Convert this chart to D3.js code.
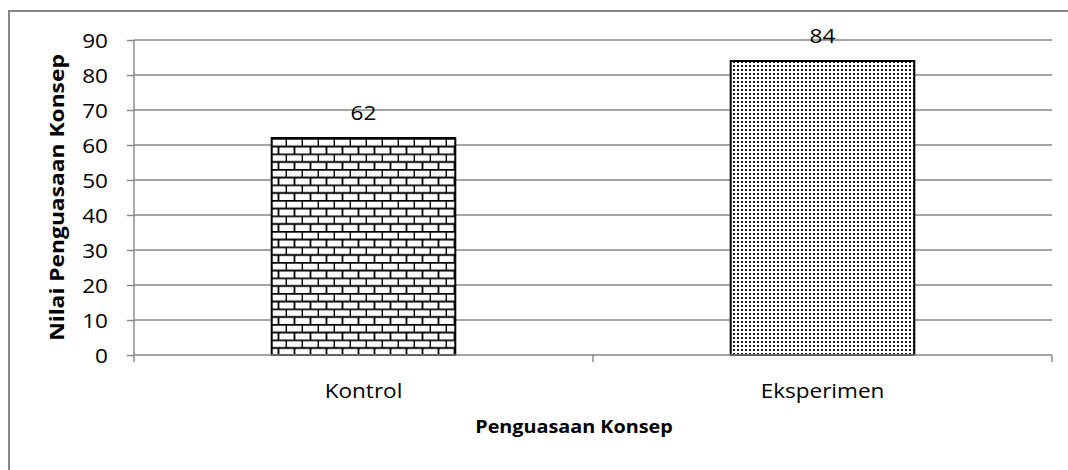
<!DOCTYPE html>
<html><head><meta charset="utf-8">
<script src="https://cdn.jsdelivr.net/npm/d3@7"></script>
<style>body{margin:0;background:#fff;}svg{display:block;}</style>
</head><body>
<svg id="c" width="1068" height="470"></svg>
<script>
const categories = ["Kontrol", "Eksperimen"];
const values = [62, 84];
const yTicks = [0, 10, 20, 30, 40, 50, 60, 70, 80, 90];
const yTitle = "Nilai Penguasaan Konsep";
const xTitle = "Penguasaan Konsep";

const svg = d3.select("#c");
const font = "'Open Sans', sans-serif";
const grey = "#868686";
const SX = 1.1;
const m = {left: 134, right: 1052, top: 40, bottom: 355};

svg.append("path").attr("d", "M9,480 L9,11 L1080,11").attr("fill", "none")
  .attr("stroke", grey).attr("stroke-width", 2);

const x = d3.scaleBand().domain(categories).range([m.left, m.right]).paddingInner(0).paddingOuter(0);
const y = d3.scaleLinear().domain([0, 90]).range([m.bottom, m.top]);

const defs = svg.append("defs");
const bp = defs.append("pattern").attr("id", "brick").attr("patternUnits", "userSpaceOnUse")
  .attr("width", 16).attr("height", 15.5).attr("x", 271).attr("y", y(values[0]));
bp.append("rect").attr("width", 16).attr("height", 15.5).attr("fill", "#fff");
bp.append("path").attr("d", "M0,0.75H16 M0,8.5H16 M15.5,0V8.5 M7.5,8.5V15.5")
  .attr("stroke", "#000").attr("stroke-width", 1.8).attr("fill", "none");
const dp = defs.append("pattern").attr("id", "dots").attr("patternUnits", "userSpaceOnUse")
  .attr("width", 4).attr("height", 4).attr("x", 0).attr("y", 0);
dp.append("rect").attr("width", 4).attr("height", 4).attr("fill", "#fff");
dp.append("rect").attr("x", 1).attr("y", 1).attr("width", 2).attr("height", 2).attr("fill", "#1a1a1a");

svg.append("g").selectAll("line").data(yTicks.filter(d => d > 0)).join("line")
  .attr("x1", m.left).attr("x2", m.right).attr("y1", d => y(d)).attr("y2", d => y(d))
  .attr("stroke", grey).attr("stroke-width", 1.4);

const ya = svg.append("g").attr("transform", `translate(${m.left},0)`)
  .call(d3.axisLeft(y).tickValues(yTicks).tickSize(7).tickFormat(d3.format("d")));
ya.select(".domain").attr("stroke", grey).attr("stroke-width", 1.4).attr("d", `M-0,${m.bottom}V${m.top}`);
ya.selectAll(".tick line").attr("stroke", grey).attr("stroke-width", 1.4);
ya.selectAll(".tick text").attr("x", 0).attr("dy", "0.36em")
  .attr("transform", `translate(-26,0) scale(${SX},1)`)
  .attr("font-family", font).attr("font-size", 20.5).attr("fill", "#000");

const fills = ["url(#brick)", "url(#dots)"];
const bw = x.bandwidth() * 0.4;
svg.append("g").selectAll("rect").data(values).join("rect")
  .attr("x", (d, i) => x(categories[i]) + (x.bandwidth() - bw) / 2)
  .attr("y", d => y(d)).attr("width", bw).attr("height", d => y(0) - y(d))
  .attr("fill", (d, i) => fills[i]).attr("stroke", "#000").attr("stroke-width", 2);

const xa = svg.append("g").attr("transform", `translate(0,${m.bottom})`)
  .call(d3.axisBottom(x).tickSize(0));
xa.select(".domain").attr("stroke", grey).attr("stroke-width", 1.6).attr("d", `M${m.left},0H${m.right}`);
xa.selectAll(".tick text").attr("y", 0).attr("dy", 0)
  .attr("transform", `translate(0,43) scale(${SX},1)`)
  .attr("font-family", font).attr("font-size", 20.5).attr("fill", "#000");
xa.append("g").selectAll("line").data([m.left, ...categories.map(c => x(c) + x.bandwidth())]).join("line")
  .attr("x1", d => d).attr("x2", d => d).attr("y1", 0).attr("y2", 7)
  .attr("stroke", grey).attr("stroke-width", 1.4);

svg.append("g").selectAll("text").data(values).join("text")
  .attr("transform", (d, i) => `translate(${x(categories[i]) + x.bandwidth() / 2},${y(d) - 18}) scale(${SX},1)`)
  .attr("text-anchor", "middle")
  .attr("font-family", font).attr("font-size", 20.5).attr("fill", "#000").text(d => d);

svg.append("text").attr("transform", `translate(64,${(m.top + m.bottom) / 2}) rotate(-90) scale(1.14,1)`)
  .attr("text-anchor", "middle").attr("font-family", font).attr("font-size", 20)
  .attr("font-weight", "bold").text(yTitle);
svg.append("text").attr("transform", `translate(574,433) scale(${SX},1)`)
  .attr("text-anchor", "middle")
  .attr("font-family", font).attr("font-size", 18).attr("font-weight", "bold").text(xTitle);
</script>
</body></html>
